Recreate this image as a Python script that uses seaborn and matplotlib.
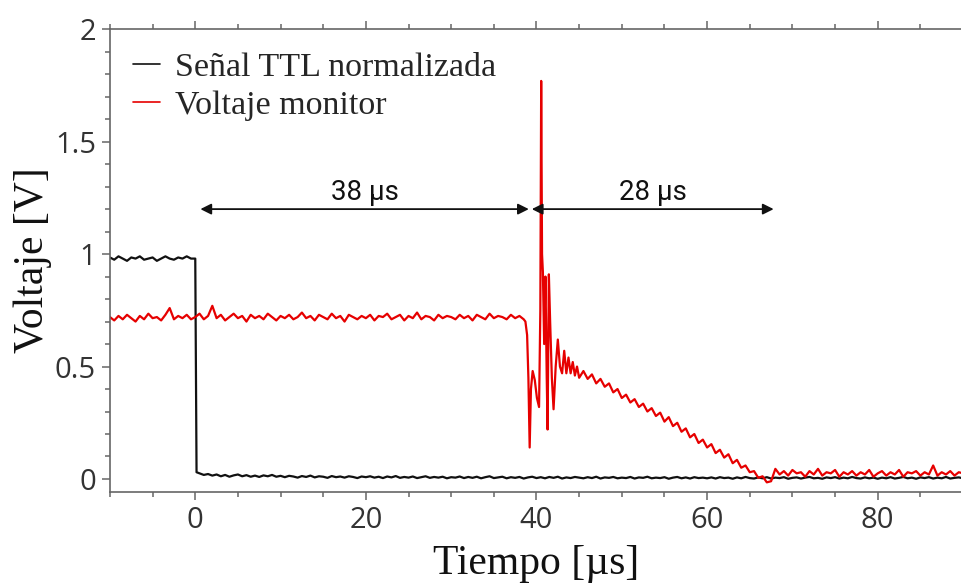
import numpy as np
import matplotlib
matplotlib.use("Agg")
import matplotlib.pyplot as plt
from matplotlib.ticker import MultipleLocator, FuncFormatter
import seaborn as sns

# ---------------- data ----------------
# TTL signal (normalised)
ttl_pre_start, ttl_step = -10.0, 0.5
ttl_pre = [0.985, 0.975, 0.99, 0.98, 0.97, 0.985, 0.98, 0.99, 0.975, 0.98,
           0.985, 0.97, 0.98, 0.99, 0.98, 0.975, 0.985, 0.98, 0.99, 0.98, 0.98]
ttl_edge_t = [0.15]
ttl_edge_v = [0.03]
ttl_post_start = 0.5
ttl_post = [
    0.025, 0.018, 0.022, 0.015, 0.02, 0.012, 0.018, 0.01, 0.016, 0.02, 0.012, 0.017, 0.01, 0.015, 0.009, 0.016, 0.012, 0.018, 0.01, 0.014,
    0.008, 0.014, 0.011, 0.006, 0.013, 0.009, 0.015, 0.007, 0.012, 0.01, 0.005, 0.013, 0.008, 0.011, 0.006, 0.012, 0.009, 0.004, 0.011, 0.008,
    0.012, 0.006, 0.01, 0.004, 0.011, 0.007, 0.013, 0.005, 0.009, 0.006, 0.011, 0.004, 0.008, 0.012, 0.005, 0.009, 0.006, 0.01, 0.003, 0.008,
    0.006, 0.011, 0.004, 0.009, 0.005, 0.01, 0.003, 0.008, 0.012, 0.004, 0.007, 0.01, 0.003, 0.008, 0.005, 0.009, 0.002, 0.007, 0.01, 0.004,
    0.008, 0.003, 0.009, 0.005, 0.01, 0.002, 0.007, 0.004, 0.009, 0.006, 0.003, 0.008, 0.004, 0.01, 0.002, 0.007, 0.005, 0.009, 0.003, 0.006,
    0.004, 0.009, 0.002, 0.007, 0.005, 0.01, 0.003, 0.006, 0.004, 0.008, 0.001, 0.006, 0.009, 0.003, 0.007, 0.002, 0.008, 0.004, 0.006, 0.003,
    0.007, 0.002, 0.008, 0.004, 0.006, 0.001, 0.007, 0.003, 0.009, 0.004, 0.002, 0.007, 0.003, 0.008, 0.002, 0.006, 0.004, 0.008, 0.001, 0.005,
    0.007, 0.002, 0.006, 0.009, 0.003, 0.005, 0.001, 0.007, 0.004, 0.008, 0.002, 0.006, 0.003, 0.009, 0.004, 0.002, 0.007, 0.003, 0.006, 0.001,
    0.006, 0.003, 0.008, 0.002, 0.005, 0.009, 0.003, 0.006, 0.001, 0.007, 0.004, 0.008, 0.002, 0.006, 0.003, 0.009, 0.002, 0.005, 0.007, 0.003,
]

# Monitor voltage
mon_flat_start, mon_step = -10.0, 0.5
mon_flat = [
    0.72, 0.705, 0.725, 0.71, 0.73, 0.715, 0.70, 0.725, 0.71, 0.735, 0.715, 0.72, 0.705, 0.73, 0.76, 0.71, 0.725, 0.715, 0.73, 0.71,
    0.72, 0.735, 0.71, 0.725, 0.77, 0.715, 0.73, 0.705, 0.72, 0.735, 0.715, 0.725, 0.70, 0.73, 0.715, 0.725, 0.71, 0.735, 0.72, 0.705,
    0.725, 0.715, 0.73, 0.71, 0.72, 0.74, 0.715, 0.725, 0.705, 0.73, 0.72, 0.71, 0.735, 0.715, 0.725, 0.70, 0.73, 0.72, 0.71, 0.725,
    0.715, 0.73, 0.705, 0.725, 0.72, 0.735, 0.71, 0.72, 0.73, 0.705, 0.725, 0.715, 0.74, 0.71, 0.725, 0.72, 0.705, 0.73, 0.715, 0.725,
    0.72, 0.71, 0.73, 0.715, 0.725, 0.705, 0.73, 0.72, 0.71, 0.735, 0.715, 0.725, 0.72, 0.71, 0.73, 0.715, 0.725, 0.71,
]
mon_spike_t = [38.7, 38.9, 39.05, 39.2, 39.35, 39.55, 39.8, 40.05, 40.3, 40.45, 40.55, 40.65,
               40.75, 40.9, 41.05, 41.2, 41.3, 41.45, 41.6, 41.8, 42.0, 42.25, 42.5, 42.75,
               43.0, 43.25, 43.5, 43.75, 44.0, 44.25, 44.5, 44.75, 45.0]
mon_spike_v = [0.70, 0.64, 0.45, 0.14, 0.40, 0.48, 0.44, 0.36, 0.32, 0.75, 1.77, 1.00,
               0.92, 0.60, 0.90, 0.45, 0.22, 0.91, 0.70, 0.45, 0.31, 0.50, 0.62, 0.50,
               0.47, 0.57, 0.47, 0.54, 0.47, 0.52, 0.46, 0.50, 0.45]
mon_decay_start = 45.5
mon_decay = [0.48, 0.445, 0.465, 0.425, 0.445, 0.41, 0.425, 0.385, 0.40, 0.36,
             0.375, 0.34, 0.355, 0.32, 0.335, 0.30, 0.315, 0.28, 0.295, 0.255,
             0.275, 0.235, 0.25, 0.21, 0.225, 0.185, 0.20, 0.16, 0.175, 0.14,
             0.155, 0.115, 0.13, 0.095, 0.11, 0.07, 0.085, 0.05, 0.06, 0.03,
             0.035, 0.005, 0.012, -0.015, -0.01]
mon_tail_start = 68.0
mon_tail = [0.045, 0.02, 0.035, 0.015, 0.04, 0.025, 0.03, 0.01, 0.035, 0.02, 0.045, 0.015, 0.03, 0.025, 0.04, 0.01, 0.03, 0.02, 0.035, 0.015,
            0.03, 0.02, 0.04, 0.01, 0.025, 0.035, 0.015, 0.03, 0.02, 0.04, 0.01, 0.03, 0.025, 0.035, 0.015, 0.03, 0.02, 0.06, 0.015, 0.03,
            0.02, 0.035, 0.015, 0.03, 0.025]

series_labels = ["Señal TTL normalizada", "Voltaje monitor"]
interval_labels = ["38 µs", "28 µs"]
interval_ends = [(0.6, 39.1), (39.45, 67.8)]
interval_y = 1.2

# ---------------- assemble sampled traces ----------------
def seg(start, step, vals):
    return start + step * np.arange(len(vals)), np.asarray(vals, float)

t1a, v1a = seg(ttl_pre_start, ttl_step, ttl_pre)
t1c, v1c = seg(ttl_post_start, ttl_step, ttl_post)
ttl_t = np.concatenate([t1a, ttl_edge_t, t1c])
ttl_v = np.concatenate([v1a, ttl_edge_v, v1c])

t2a, v2a = seg(mon_flat_start, mon_step, mon_flat)
t2c, v2c = seg(mon_decay_start, mon_step, mon_decay)
t2d, v2d = seg(mon_tail_start, mon_step, mon_tail)
mon_t = np.concatenate([t2a, mon_spike_t, t2c, t2d])
mon_v = np.concatenate([v2a, mon_spike_v, v2c, v2d])

# ---------------- figure ----------------
sns.set_theme(style="ticks")
plt.rcParams["font.family"] = ["Liberation Serif", "DejaVu Serif"]

fig = plt.figure(figsize=(9.62, 5.84), dpi=100)
ax = fig.add_axes([0.1143, 0.1575, 0.885, 0.7925])

sns.lineplot(x=ttl_t, y=ttl_v, ax=ax, color="#111111", lw=1.6,
             estimator=None, sort=False, label=series_labels[0])
sns.lineplot(x=mon_t, y=mon_v, ax=ax, color="#e60000", lw=1.6,
             estimator=None, sort=False, label=series_labels[1])

ax.set_xlim(-10, 89.8)
ax.set_ylim(-0.058, 2.0)

ax.xaxis.set_major_locator(MultipleLocator(20))
ax.xaxis.set_minor_locator(MultipleLocator(5))
ax.yaxis.set_major_locator(MultipleLocator(0.5))
ax.yaxis.set_minor_locator(MultipleLocator(0.1))
ax.yaxis.set_major_formatter(FuncFormatter(lambda v, p: f"{v:g}"))
ax.xaxis.set_major_formatter(FuncFormatter(lambda v, p: f"{v:g}"))

for s in ["left", "bottom", "top"]:
    ax.spines[s].set_color("#666666")
    ax.spines[s].set_linewidth(1.2)
ax.spines["right"].set_visible(False)

ax.tick_params(which="both", direction="out", top=True, right=False,
               color="#666666", width=1.1)
ax.tick_params(which="major", length=6, labelsize=21, labelcolor="#333333", pad=4)
ax.tick_params(which="minor", length=3.5)
for lab in ax.get_xticklabels() + ax.get_yticklabels():
    lab.set_family(["Open Sans", "DejaVu Sans"])

ax.set_xlabel("Tiempo [µs]", fontsize=30, labelpad=7, color="#111111")
ax.set_ylabel("Voltaje [V]", fontsize=30, labelpad=2, color="#111111")

leg = ax.legend(loc="upper left", bbox_to_anchor=(0.027, 0.95), frameon=False,
                fontsize=24.5, handlelength=0.8, handletextpad=0.45,
                borderpad=0, borderaxespad=0, labelspacing=0.2)
for h in leg.get_lines():
    h.set_linewidth(1.2)

# interval arrows
for (xa, xb), lab in zip(interval_ends, interval_labels):
    ax.annotate("", xy=(xb, interval_y), xytext=(xa, interval_y),
                arrowprops=dict(arrowstyle="<|-|>", color="#111111", lw=1.3,
                                mutation_scale=16, shrinkA=0, shrinkB=0))
    ax.text((xa + xb) / 2, interval_y + 0.012, lab, ha="center", va="bottom",
            fontsize=20, family=["Roboto", "DejaVu Sans"], color="#111111")

fig.savefig("out.png", dpi=100)
